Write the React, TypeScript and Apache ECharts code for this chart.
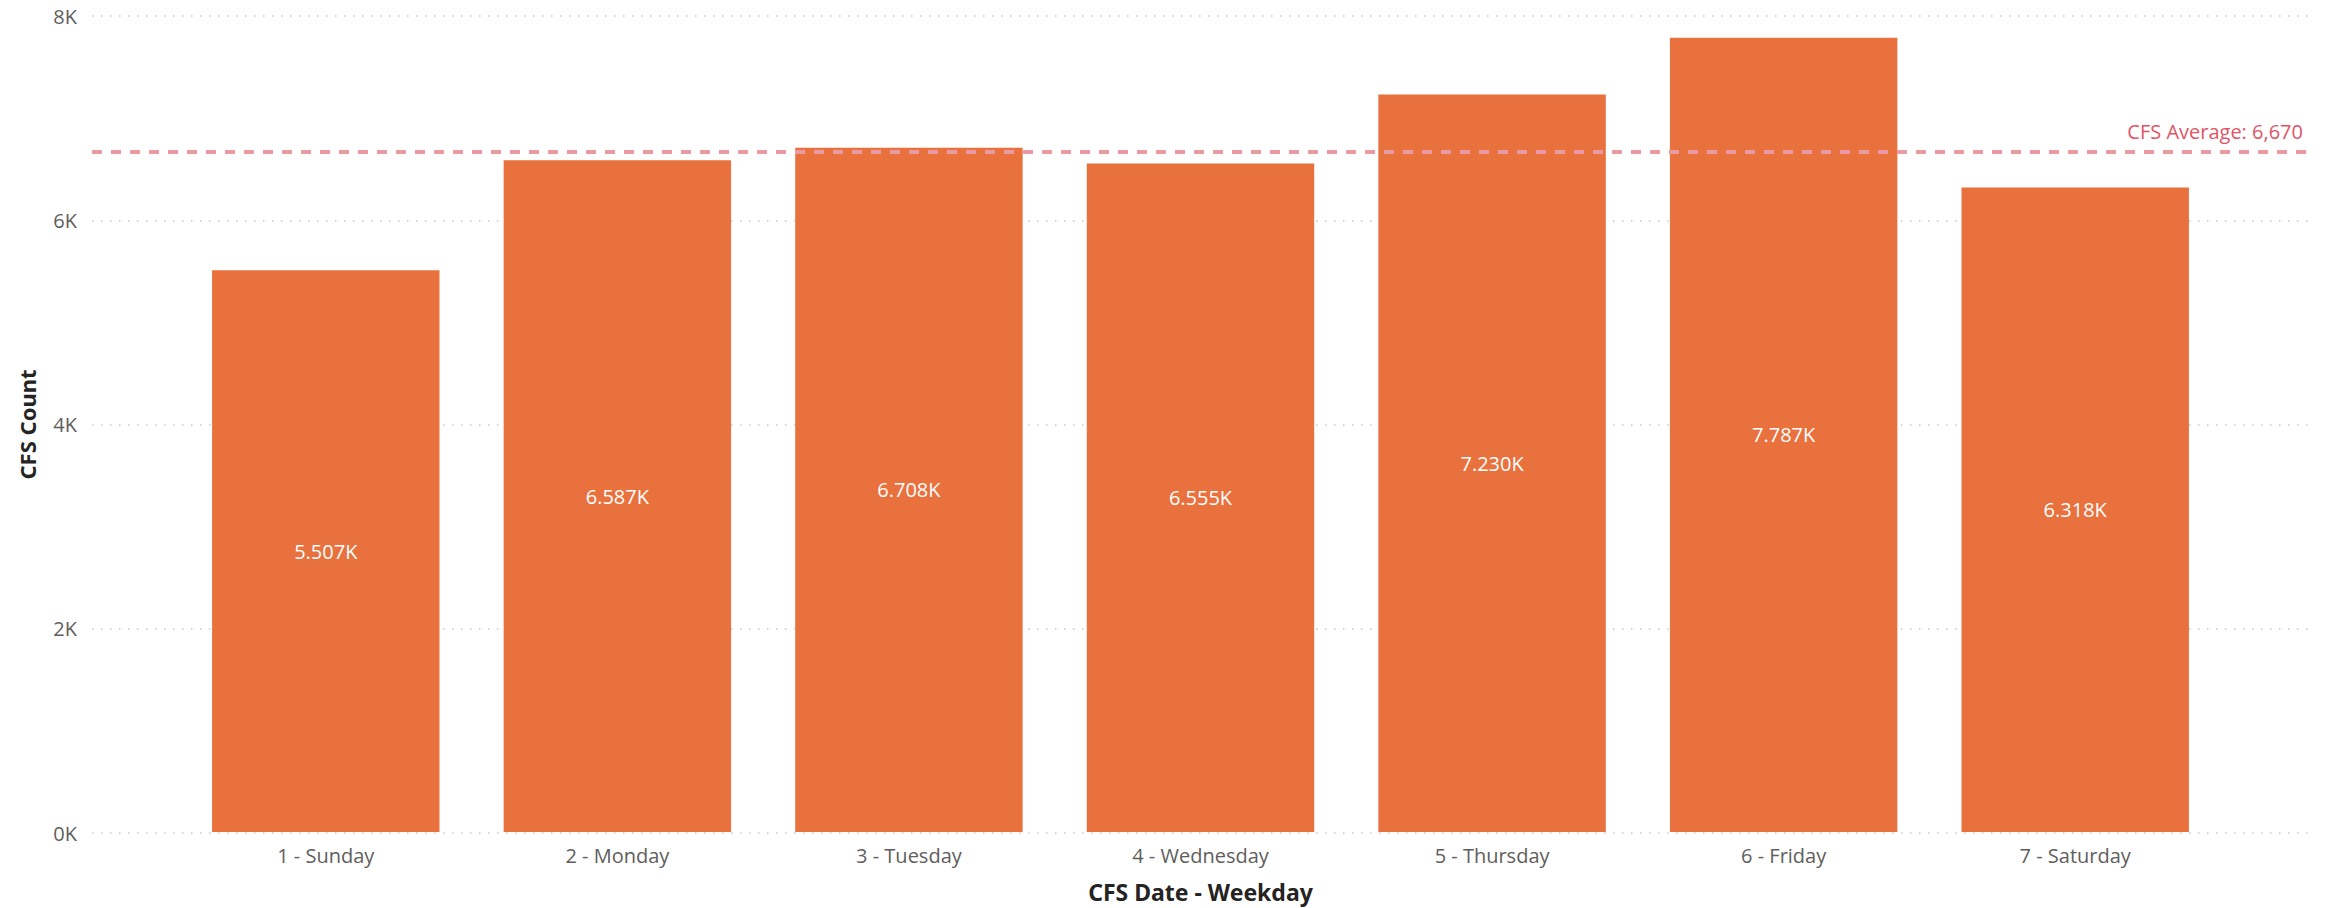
import React, { useEffect, useRef } from "react";
import * as echarts from "echarts";

const categories = ["1 - Sunday", "2 - Monday", "3 - Tuesday", "4 - Wednesday", "5 - Thursday", "6 - Friday", "7 - Saturday"];
const cfsCount = [5507, 6587, 6708, 6555, 7230, 7787, 6318];
const averageValue = 6670;
const yTicks = [0, 2000, 4000, 6000, 8000];

const FONT = "'Segoe UI', 'Open Sans', sans-serif";
const TITLE_FONT = "'DIN', 'Noto Sans', sans-serif";

export default function App() {
  const ref = useRef<HTMLDivElement>(null);
  useEffect(() => {
    if (!ref.current) return;
    const chart = echarts.init(ref.current, undefined, { renderer: "svg" });
    const yMin = yTicks[0];
    const yMax = yTicks[yTicks.length - 1];
    const yInterval = yTicks[1] - yTicks[0];
    chart.setOption({
      animation: false,
      grid: [
        { left: 92, right: 22, top: 16, bottom: 75 },
        { left: 180, right: 112, top: 16, bottom: 75 },
      ],
      xAxis: [
        { type: "category", gridIndex: 0, data: [""], show: false },
        {
          type: "category",
          gridIndex: 1,
          data: categories,
          axisLine: { show: false },
          axisTick: { show: false },
          axisLabel: { color: "#605E5C", fontSize: 20, fontFamily: FONT, margin: 13 },
          name: "CFS Date - Weekday",
          nameLocation: "middle",
          nameGap: 48,
          nameTextStyle: { color: "#252423", fontSize: 23, fontWeight: "bold", fontFamily: TITLE_FONT },
        },
      ],
      yAxis: [
        {
          type: "value",
          gridIndex: 0,
          min: yMin,
          max: yMax,
          interval: yInterval,
          axisLine: { show: false },
          axisTick: { show: false },
          axisLabel: {
            color: "#605E5C",
            fontSize: 20,
            fontFamily: FONT,
            margin: 15,
            formatter: (v: number) => `${v / 1000}K`,
          },
          splitLine: { show: true, lineStyle: { color: "#C8C8C8", width: 1.5, type: [1.5, 7.5] } },
          name: "CFS Count",
          nameLocation: "middle",
          nameGap: 54,
          nameTextStyle: { color: "#252423", fontSize: 22, fontWeight: "bold", fontFamily: TITLE_FONT },
        },
        {
          type: "value",
          gridIndex: 1,
          min: yMin,
          max: yMax,
          interval: yInterval,
          show: false,
          splitLine: { show: false },
        },
      ],
      series: [
        {
          type: "line",
          xAxisIndex: 0,
          yAxisIndex: 0,
          data: [],
          silent: true,
          markLine: {
            symbol: "none",
            silent: true,
            lineStyle: { color: "#E99AA3", width: 4, type: [10, 9] },
            label: {
              show: true,
              position: "insideEndTop",
              formatter: () => `CFS Average: ${averageValue.toLocaleString("en-US")}`,
              color: "#E05566",
              fontSize: 20,
              fontFamily: FONT,
              distance: [8, 10],
            },
            data: [{ yAxis: averageValue }],
          },
        },
        {
          type: "bar",
          xAxisIndex: 1,
          yAxisIndex: 1,
          data: cfsCount,
          barCategoryGap: "22%",
          itemStyle: { color: "#E8713E" },
          label: {
            show: true,
            position: "inside",
            color: "#FFFFFF",
            fontSize: 20,
            fontFamily: FONT,
            formatter: (p: any) => `${(p.value / 1000).toFixed(3)}K`,
          },
        },
      ],
    });
    return () => chart.dispose();
  }, []);
  return (
    <div
      ref={ref}
      style={{ position: "absolute", left: 0, top: 0, width: 2333, height: 908, background: "#FFFFFF" }}
    />
  );
}
